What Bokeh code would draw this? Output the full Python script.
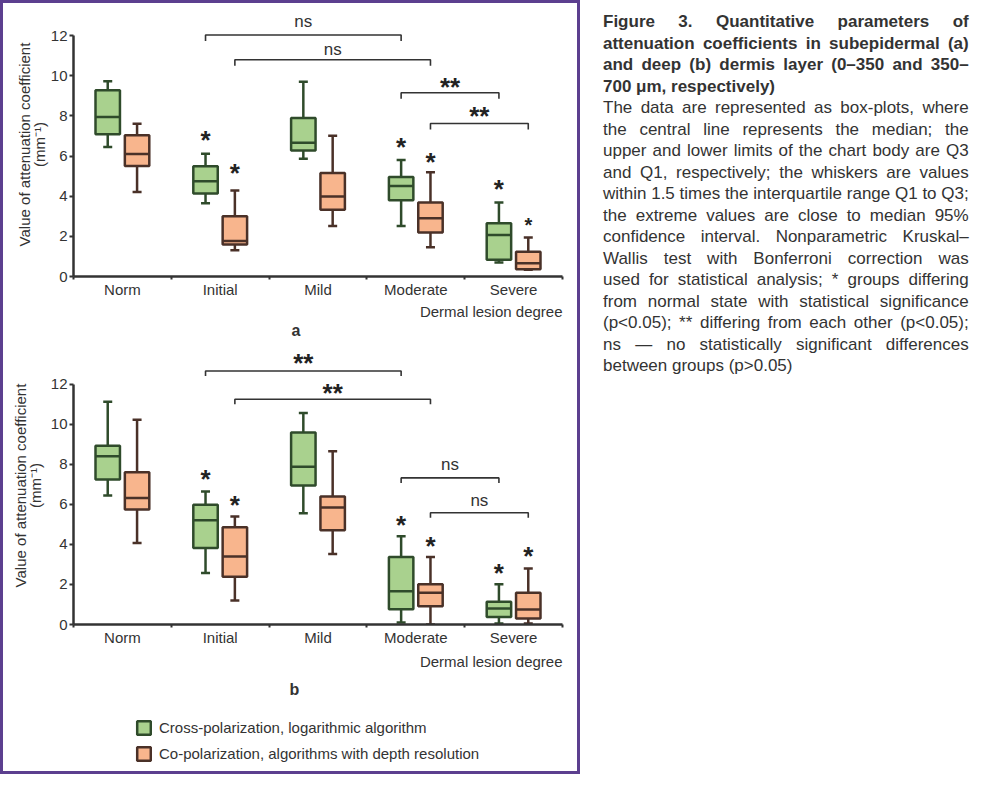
from bokeh.plotting import figure
from bokeh.models import (ColumnDataSource, FixedTicker, Title, Legend, LegendItem,
                          Div, Range1d)
from bokeh.layouts import column, row
from bokeh.embed import file_html
from bokeh.resources import INLINE

# ---------------- data ----------------
categories = ["Norm", "Initial", "Mild", "Moderate", "Severe"]
series_names = ["Cross-polarization, logarithmic algorithm",
                "Co-polarization, algorithms with depth resolution"]
y_ticks = [0, 2, 4, 6, 8, 10, 12]

# panel a (subepidermal)
a_cross_low = [6.45, 3.65, 5.87, 2.52, 0.70]
a_cross_q1 = [7.08, 4.13, 6.27, 3.80, 0.83]
a_cross_med = [7.94, 4.74, 6.66, 4.51, 2.07]
a_cross_q3 = [9.28, 5.49, 7.89, 4.96, 2.65]
a_cross_high = [9.73, 6.12, 9.70, 5.80, 3.68]

a_co_low = [4.21, 1.31, 2.52, 1.46, 0.33]
a_co_q1 = [5.50, 1.59, 3.33, 2.19, 0.36]
a_co_med = [6.10, 1.77, 3.99, 2.90, 0.66]
a_co_q3 = [7.03, 3.00, 5.15, 3.68, 1.23]
a_co_high = [7.61, 4.28, 7.01, 5.19, 1.94]

a_star_cross_cat = [1, 3, 4]
a_star_cross_y = [7.00, 6.66, 4.54]
a_star_cross_size = ["26px", "26px", "26px"]
a_star_co_cat = [1, 3, 4]
a_star_co_y = [5.34, 5.92, 2.78]
a_star_co_size = ["26px", "26px", "20px"]

a_br_from_cat = [1, 1, 3, 3]
a_br_to_cat = [3, 3, 4, 4]
a_br_series = [0, 1, 0, 1]
a_br_y = [12.03, 10.80, 9.15, 7.62]
a_br_text = ["ns", "ns", "**", "**"]
a_br_text_y = [12.71, 11.30, 9.65, 8.19]

# panel b (deep dermis)
b_cross_low = [6.44, 2.57, 5.56, 0.10, 0.05]
b_cross_q1 = [7.24, 3.82, 6.94, 0.76, 0.38]
b_cross_med = [8.40, 5.21, 7.88, 1.66, 0.80]
b_cross_q3 = [8.93, 5.98, 9.59, 3.37, 1.13]
b_cross_high = [11.12, 6.64, 10.56, 4.40, 2.01]

b_co_low = [4.07, 1.20, 3.52, 0.00, 0.05]
b_co_q1 = [5.74, 2.39, 4.70, 0.91, 0.30]
b_co_med = [6.32, 3.40, 5.84, 1.58, 0.75]
b_co_q3 = [7.60, 4.86, 6.39, 2.01, 1.59]
b_co_high = [10.22, 5.39, 8.65, 3.37, 2.80]

b_star_cross_cat = [1, 3, 4]
b_star_cross_y = [7.44, 5.15, 2.79]
b_star_cross_size = ["26px", "26px", "26px"]
b_star_co_cat = [1, 3, 4]
b_star_co_y = [6.19, 4.12, 3.62]
b_star_co_size = ["26px", "26px", "26px"]

b_br_from_cat = [1, 1, 3, 3]
b_br_to_cat = [3, 3, 4, 4]
b_br_series = [0, 1, 0, 1]
b_br_y = [12.66, 11.25, 7.32, 5.58]
b_br_text = ["**", "**", "ns", "ns"]
b_br_text_y = [13.25, 11.78, 7.97, 6.19]

caption_title_lines = [
    "Figure 3. Quantitative parameters of",
    "attenuation coefficients in subepidermal (a)",
    "and deep (b) dermis layer (0\u2013350 and 350\u2013",
    "700 \u03bcm, respectively)",
]
caption_body_lines = [
    "The data are represented as box-plots, where",
    "the central line represents the median; the",
    "upper and lower limits of the chart body are Q3",
    "and Q1, respectively; the whiskers are values",
    "within 1.5 times the interquartile range Q1 to Q3;",
    "the extreme values are close to median 95%",
    "confidence interval. Nonparametric Kruskal\u2013",
    "Wallis test with Bonferroni correction was",
    "used for statistical analysis; * groups differing",
    "from normal state with statistical significance",
    "(p&lt;0.05); ** differing from each other (p&lt;0.05);",
    "ns \u2014 no statistically significant differences",
    "between groups (p&gt;0.05)",
]

# ---------------- style ----------------
FONT = "Liberation Sans"
TXT = "#333333"
GREEN_FILL, GREEN_EDGE = "#a9d18e", "#2f4b2b"
ORANGE_FILL, ORANGE_EDGE = "#f8b58d", "#4a3128"
PURPLE = "#5c3f8f"
OFFS = [-0.15, 0.15]
BOX_W = 0.25


def draw_series(p, low, q1, med, q3, high, off, fill, edge):
    xs = [i + 0.5 + off for i in range(len(categories))]
    src = ColumnDataSource(dict(x=xs, low=low, q1=q1, med=med, q3=q3, high=high,
                                mx0=[x - BOX_W / 2 for x in xs],
                                mx1=[x + BOX_W / 2 for x in xs]))
    p.segment(x0="x", y0="q3", x1="x", y1="high", source=src, line_color=edge, line_width=2.5)
    p.segment(x0="x", y0="low", x1="x", y1="q1", source=src, line_color=edge, line_width=2.5)
    p.scatter(x="x", y="high", source=src, marker="dash", size=9, line_color=edge, line_width=2.5)
    p.scatter(x="x", y="low", source=src, marker="dash", size=9, line_color=edge, line_width=2.5)
    r = p.vbar(x="x", width=BOX_W, bottom="q1", top="q3", source=src,
               fill_color=fill, line_color=edge, line_width=2.5)
    p.segment(x0="mx0", y0="med", x1="mx1", y1="med", source=src, line_color=edge, line_width=2.5)
    return r


def draw_stars(p, cats, ys, sizes, off):
    src = ColumnDataSource(dict(x=[c + 0.5 + off for c in cats], y=ys, s=sizes,
                                t=["*"] * len(cats)))
    p.text(x="x", y="y", text="t", source=src, text_font_size="s",
           text_font={"value": FONT}, text_font_style="bold", text_color="#222222",
           text_align="center", text_baseline="alphabetic", y_offset=4)


def draw_brackets(p, c0, c1, ser, ys, texts, text_ys, drop):
    xs, yl = [], []
    tx = []
    for a, b, s, y in zip(c0, c1, ser, ys):
        x0 = a + 0.5 + OFFS[s]
        x1 = b + 0.5 + OFFS[s]
        xs.append([x0, x0, x1, x1])
        yl.append([y - drop, y, y, y - drop])
        tx.append((x0 + x1) / 2)
    p.multi_line(xs=xs, ys=yl, line_color="#333333", line_width=1.6)
    ns_i = [i for i, t in enumerate(texts) if t == "ns"]
    st_i = [i for i, t in enumerate(texts) if t != "ns"]
    p.text(x=[tx[i] for i in ns_i], y=[text_ys[i] for i in ns_i], text=[texts[i] for i in ns_i],
           text_font={"value": FONT}, text_font_size="17px", text_color=TXT,
           text_align="center", text_baseline="middle")
    p.text(x=[tx[i] for i in st_i], y=[text_ys[i] for i in st_i], text=[texts[i] for i in st_i],
           text_font={"value": FONT}, text_font_size="26px", text_font_style="bold",
           text_color="#222222", text_align="center", text_baseline="alphabetic", y_offset=4)


def make_panel(ymax, w, h, mbl, mbr, mbt, mbb, ylab_standoff, letter, letter_off,
               dermal_standoff, letter_standoff):
    p = figure(width=w, height=h, x_range=Range1d(0, 5), y_range=Range1d(0, ymax),
               output_backend="svg", toolbar_location=None,
               min_border_left=mbl, min_border_right=mbr, min_border_top=mbt, min_border_bottom=mbb)
    p.xgrid.visible = False
    p.ygrid.visible = False
    p.outline_line_color = None
    p.background_fill_color = "white"
    p.border_fill_color = "white"

    ya = p.yaxis[0]
    ya.ticker = FixedTicker(ticks=y_ticks)
    ya.bounds = (0, 12)
    xa = p.xaxis[0]
    xa.ticker = FixedTicker(ticks=[i + 0.5 for i in range(5)], minor_ticks=list(range(6)))
    xa.major_label_overrides = {i + 0.5: c for i, c in enumerate(categories)}
    for ax in (xa, ya):
        ax.axis_line_width = 2.5
        ax.axis_line_color = "#333333"
        ax.major_label_text_font = FONT
        ax.major_label_text_font_size = "15px"
        ax.major_label_text_color = TXT
    ya.major_tick_out = 4
    ya.major_tick_in = 0
    ya.minor_tick_out = 0
    ya.minor_tick_in = 0
    ya.major_tick_line_width = 2
    ya.major_tick_line_color = "#333333"
    ya.minor_tick_line_color = None
    ya.major_label_standoff = 2
    ya.axis_label = "Value of attenuation coefficient\n(mm\u207b\u00b9)"
    ya.axis_label_text_font = FONT
    ya.axis_label_text_font_size = "15px"
    ya.axis_label_text_font_style = "normal"
    ya.axis_label_text_color = TXT
    ya.axis_label_text_line_height = 0.9
    ya.axis_label_standoff = ylab_standoff
    xa.major_tick_out = 0
    xa.major_tick_in = 0
    xa.major_tick_line_color = None
    xa.minor_tick_out = 3
    xa.minor_tick_in = 0
    xa.minor_tick_line_width = 2
    xa.minor_tick_line_color = "#333333"
    xa.major_label_standoff = 1

    p.add_layout(Title(text="Dermal lesion degree", align="right", offset=0,
                       text_font=FONT, text_font_size="15px", text_font_style="normal",
                       text_color=TXT, standoff=dermal_standoff), "below")
    p.add_layout(Title(text=letter, align="left", offset=letter_off,
                       text_font=FONT, text_font_size="16px", text_font_style="bold",
                       text_color=TXT, standoff=letter_standoff), "below")
    return p


# ---------------- panel a ----------------
pa = make_panel(13.15, 574, 337, 65, 15, 9, 64, 0, "a", 218, 0, 0)
draw_series(pa, a_cross_low, a_cross_q1, a_cross_med, a_cross_q3, a_cross_high, OFFS[0], GREEN_FILL, GREEN_EDGE)
draw_series(pa, a_co_low, a_co_q1, a_co_med, a_co_q3, a_co_high, OFFS[1], ORANGE_FILL, ORANGE_EDGE)
draw_stars(pa, a_star_cross_cat, a_star_cross_y, a_star_cross_size, OFFS[0])
draw_stars(pa, a_star_co_cat, a_star_co_y, a_star_co_size, OFFS[1])
draw_brackets(pa, a_br_from_cat, a_br_to_cat, a_br_series, a_br_y, a_br_text, a_br_text_y, 0.3)

# ---------------- panel b ----------------
pb = make_panel(13.88, 574, 363, 70, 12, 6, 78, 4, "b", 216, 5, 12)
draw_series(pb, b_cross_low, b_cross_q1, b_cross_med, b_cross_q3, b_cross_high, OFFS[0], GREEN_FILL, GREEN_EDGE)
draw_series(pb, b_co_low, b_co_q1, b_co_med, b_co_q3, b_co_high, OFFS[1], ORANGE_FILL, ORANGE_EDGE)
draw_stars(pb, b_star_cross_cat, b_star_cross_y, b_star_cross_size, OFFS[0])
draw_stars(pb, b_star_co_cat, b_star_co_y, b_star_co_size, OFFS[1])
draw_brackets(pb, b_br_from_cat, b_br_to_cat, b_br_series, b_br_y, b_br_text, b_br_text_y, 0.25)

# ---------------- legend strip ----------------
# hidden proxy renderers that only supply the legend swatches
pl = figure(width=574, height=68, x_range=Range1d(0, 1), y_range=Range1d(0, 1),
            output_backend="svg", toolbar_location=None,
            x_axis_location=None, y_axis_location=None, min_border=0)
pl.grid.visible = False
pl.outline_line_color = None
proxy = ColumnDataSource(dict(x=[0.5], bottom=[0.2], top=[0.8]))
lg = pl.vbar(x="x", bottom="bottom", top="top", width=0.1, source=proxy,
             fill_color=GREEN_FILL, line_color=GREEN_EDGE, line_width=2.5, visible=False)
lo = pl.vbar(x="x", bottom="bottom", top="top", width=0.1, source=proxy,
             fill_color=ORANGE_FILL, line_color=ORANGE_EDGE, line_width=2.5, visible=False)
legend = Legend(items=[LegendItem(label=series_names[0], renderers=[lg]),
                       LegendItem(label=series_names[1], renderers=[lo])],
                location=(62, 9), orientation="vertical", glyph_width=17, glyph_height=17,
                spacing=9, padding=0, margin=0, border_line_color=None,
                background_fill_alpha=0, label_text_font=FONT, label_text_font_size="15px",
                label_text_color=TXT, label_standoff=7, label_height=17)
pl.add_layout(legend)

left = column(pa, pb, pl, spacing=0, width=580, height=774,
              styles={"border": "3px solid " + PURPLE})

line_style = "white-space:nowrap;text-align:justify;text-align-last:justify;"
last_style = "white-space:nowrap;text-align:left;"
html = ["<div style='font-family:\"Liberation Sans\",Arial,sans-serif;font-size:17px;"
        "line-height:21.5px;color:#333;padding-top:9px;'>"]
for i, ln in enumerate(caption_title_lines):
    st = last_style if i == len(caption_title_lines) - 1 else line_style
    html.append("<div style='font-weight:bold;" + st + "'>" + ln + "</div>")
for i, ln in enumerate(caption_body_lines):
    st = last_style if i == len(caption_body_lines) - 1 else line_style
    html.append("<div style='" + st + "'>" + ln + "</div>")
html.append("</div>")
caption = Div(text="".join(html), width=367, margin=(2, 0, 0, 23))

layout = row(left, caption, spacing=0)

with open("out.html", "w") as f:
    f.write(file_html(layout, INLINE))
